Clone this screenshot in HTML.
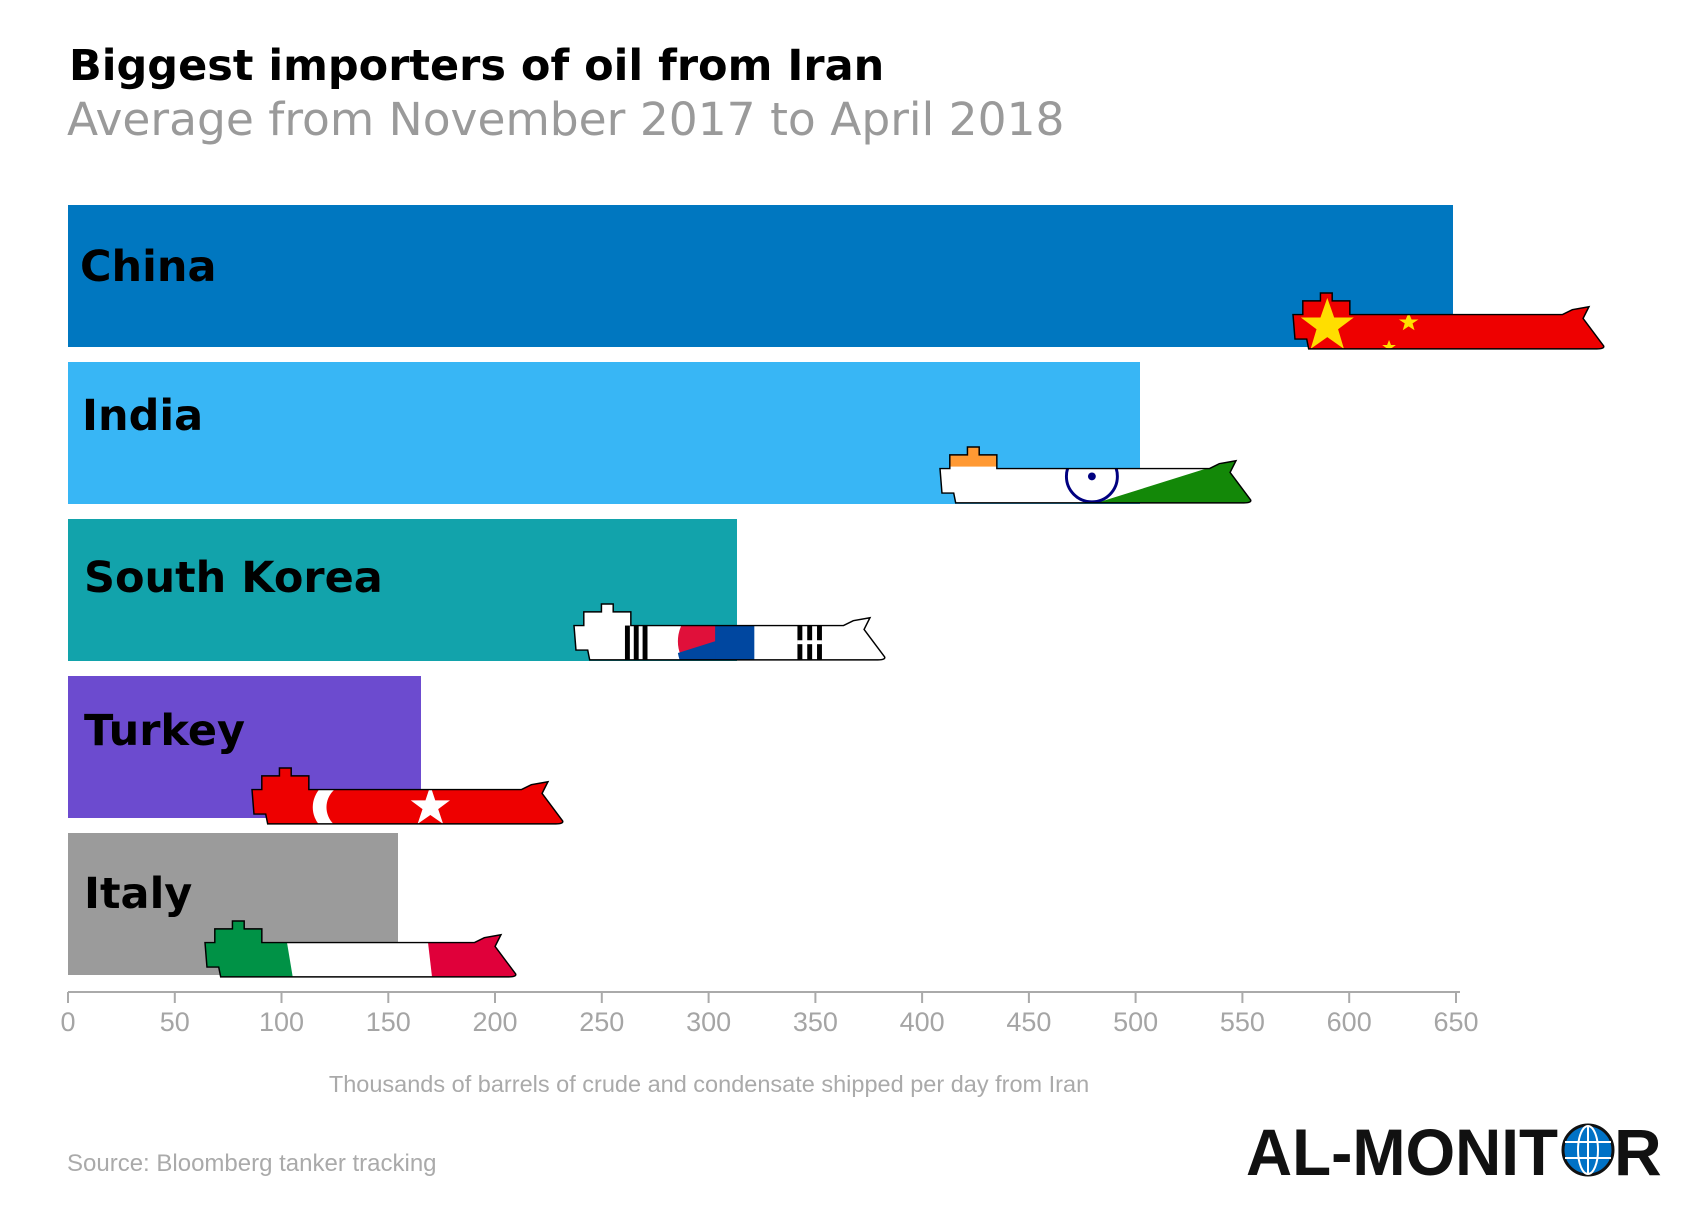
<!DOCTYPE html>
<html><head><meta charset="utf-8"><style>
html,body{margin:0;padding:0;background:#fff;}
body{width:1704px;height:1219px;overflow:hidden;position:relative;font-family:"Liberation Sans",sans-serif;}
</style></head><body>
<svg width="1704" height="1219" viewBox="0 0 1704 1219" xmlns="http://www.w3.org/2000/svg" style="position:absolute;left:0;top:0">
<defs>
<path id="ship" d="M0,22 L10,22 L10,8 L28,8 L28,0 L40,0 L40,8 L58,8 L58,22 L275,22 L285,17 L302,14 L296,26 L317,54 Q318,57 310,57 L16,57 L14,47 L2,47 Z"/>
<clipPath id="cs"><use href="#ship"/></clipPath>
</defs>
<text x="69" y="80" font-family="'DejaVu Sans',sans-serif" font-weight="bold" font-size="43" fill="#000">Biggest importers of oil from Iran</text>
<text x="67" y="135" font-family="'DejaVu Sans',sans-serif" font-size="45.5" fill="#9a9a9a">Average from November 2017 to April 2018</text>

<rect x="68" y="205" width="1385" height="142" fill="#0077c0"/>
<rect x="68" y="362" width="1072" height="142" fill="#38b6f5"/>
<rect x="68" y="519" width="669" height="142" fill="#12a3ab"/>
<rect x="68" y="676" width="353" height="142" fill="#6c4bcf"/>
<rect x="68" y="833" width="330" height="142" fill="#9b9b9b"/>

<g font-family="'DejaVu Sans',sans-serif" font-weight="bold" font-size="43" fill="#000">
<text x="80" y="281">China</text>
<text x="82" y="430">India</text>
<text x="84" y="592">South Korea</text>
<text x="84" y="745">Turkey</text>
<text x="84" y="908">Italy</text>
</g>

<g transform="translate(1293,293) scale(0.98)">
<g clip-path="url(#cs)">
<rect x="0" y="0" width="320" height="60" fill="#ee0000"/>
<polygon points="35,5 42,25 62,25 46,37 52,57 35,45 18,57 24,37 8,25 28,25" fill="#ffde00"/>
<polygon points="118,20 121,27 128,27 122,31 124,38 118,34 112,38 114,31 108,27 115,27" fill="#ffde00"/>
<polygon points="98,48 100,53 105,53 101,56 98,57 95,56 91,53 96,53" fill="#ffde00"/>
</g>
<use href="#ship" fill="none" stroke="#000" stroke-width="1.5"/>
</g>
<g transform="translate(940,447) scale(0.98)">
<g clip-path="url(#cs)">
<rect x="0" y="0" width="320" height="60" fill="#fff"/>
<rect x="0" y="0" width="60" height="20" fill="#ff9933"/>
<polygon points="160,57 310,10 320,60" fill="#138808"/>
<circle cx="155" cy="30" r="26" fill="none" stroke="#000080" stroke-width="3"/>
<circle cx="155" cy="30" r="4" fill="#000080"/>
</g>
<use href="#ship" fill="none" stroke="#000" stroke-width="1.5"/>
</g>
<g transform="translate(574,604) scale(0.98)">
<g clip-path="url(#cs)">
<rect x="0" y="0" width="320" height="60" fill="#fff"/>
<rect x="52" y="22" width="5" height="35" fill="#000"/><rect x="61" y="22" width="5" height="35" fill="#000"/><rect x="70" y="22" width="5" height="35" fill="#000"/>
<circle cx="144" cy="38" r="38" fill="#e0103a"/>
<path d="M144,38 L182,38 A38,38 0 0 1 106,50 Z" fill="#0047a0"/>
<rect x="144" y="20" width="40" height="40" fill="#0047a0"/>
<rect x="228" y="22" width="5" height="35" fill="#000"/><rect x="238" y="22" width="5" height="35" fill="#000"/><rect x="248" y="22" width="5" height="35" fill="#000"/>
<rect x="228" y="37" width="25" height="4" fill="#fff"/>
</g>
<use href="#ship" fill="none" stroke="#000" stroke-width="1.5"/>
</g>
<g transform="translate(252,768) scale(0.98)">
<g clip-path="url(#cs)">
<rect x="0" y="0" width="320" height="60" fill="#ee0000"/>
<circle cx="90" cy="40" r="28" fill="#fff"/>
<circle cx="100" cy="40" r="24" fill="#ee0000"/>
<polygon points="182,18 187,33 202,33 190,42 195,57 182,48 169,57 174,42 162,33 177,33" fill="#fff"/>
</g>
<use href="#ship" fill="none" stroke="#000" stroke-width="1.5"/>
</g>
<g transform="translate(205,921) scale(0.98)">
<g clip-path="url(#cs)">
<rect x="0" y="0" width="320" height="60" fill="#fff"/>
<polygon points="0,0 80,0 90,60 0,60" fill="#009246"/>
<polygon points="225,0 320,0 320,60 232,60" fill="#e0003a"/>
</g>
<use href="#ship" fill="none" stroke="#000" stroke-width="1.5"/>
</g>

<line x1="68" y1="992" x2="1460" y2="992" stroke="#aaa" stroke-width="2"/>
<g stroke="#aaa" stroke-width="2">
<line x1="68" y1="992" x2="68" y2="1003"/><line x1="174.8" y1="992" x2="174.8" y2="1003"/><line x1="281.5" y1="992" x2="281.5" y2="1003"/><line x1="388.3" y1="992" x2="388.3" y2="1003"/><line x1="495" y1="992" x2="495" y2="1003"/><line x1="601.8" y1="992" x2="601.8" y2="1003"/><line x1="708.6" y1="992" x2="708.6" y2="1003"/><line x1="815.4" y1="992" x2="815.4" y2="1003"/><line x1="922.1" y1="992" x2="922.1" y2="1003"/><line x1="1028.9" y1="992" x2="1028.9" y2="1003"/><line x1="1135.6" y1="992" x2="1135.6" y2="1003"/><line x1="1242.4" y1="992" x2="1242.4" y2="1003"/><line x1="1349.2" y1="992" x2="1349.2" y2="1003"/><line x1="1456" y1="992" x2="1456" y2="1003"/>
</g>
<g font-size="27" fill="#a5a5a5" text-anchor="middle">
<text x="68" y="1031">0</text><text x="174.8" y="1031">50</text><text x="281.5" y="1031">100</text><text x="388.3" y="1031">150</text><text x="495" y="1031">200</text><text x="601.8" y="1031">250</text><text x="708.6" y="1031">300</text><text x="815.4" y="1031">350</text><text x="922.1" y="1031">400</text><text x="1028.9" y="1031">450</text><text x="1135.6" y="1031">500</text><text x="1242.4" y="1031">550</text><text x="1349.2" y="1031">600</text><text x="1456" y="1031">650</text>
</g>
<text x="709" y="1092" text-anchor="middle" font-size="23.5" fill="#aaa">Thousands of barrels of crude and condensate shipped per day from Iran</text>
<text x="67" y="1171" font-size="24" fill="#aaa">Source: Bloomberg tanker tracking</text>

<text x="1246" y="1175" font-size="66" font-weight="bold" fill="#111" textLength="312" lengthAdjust="spacingAndGlyphs">AL-MONIT</text>
<circle cx="1588" cy="1150" r="25" fill="#0072c6" stroke="#111" stroke-width="3"/>
<g stroke="#fff" stroke-width="2" fill="none">
<ellipse cx="1588" cy="1150" rx="10" ry="24"/><line x1="1588" y1="1126" x2="1588" y2="1174"/>
<line x1="1565" y1="1142" x2="1611" y2="1142"/><line x1="1565" y1="1158" x2="1611" y2="1158"/>
</g>
<text x="1614" y="1175" font-size="66" font-weight="bold" fill="#111">R</text>
</svg>
</body></html>
